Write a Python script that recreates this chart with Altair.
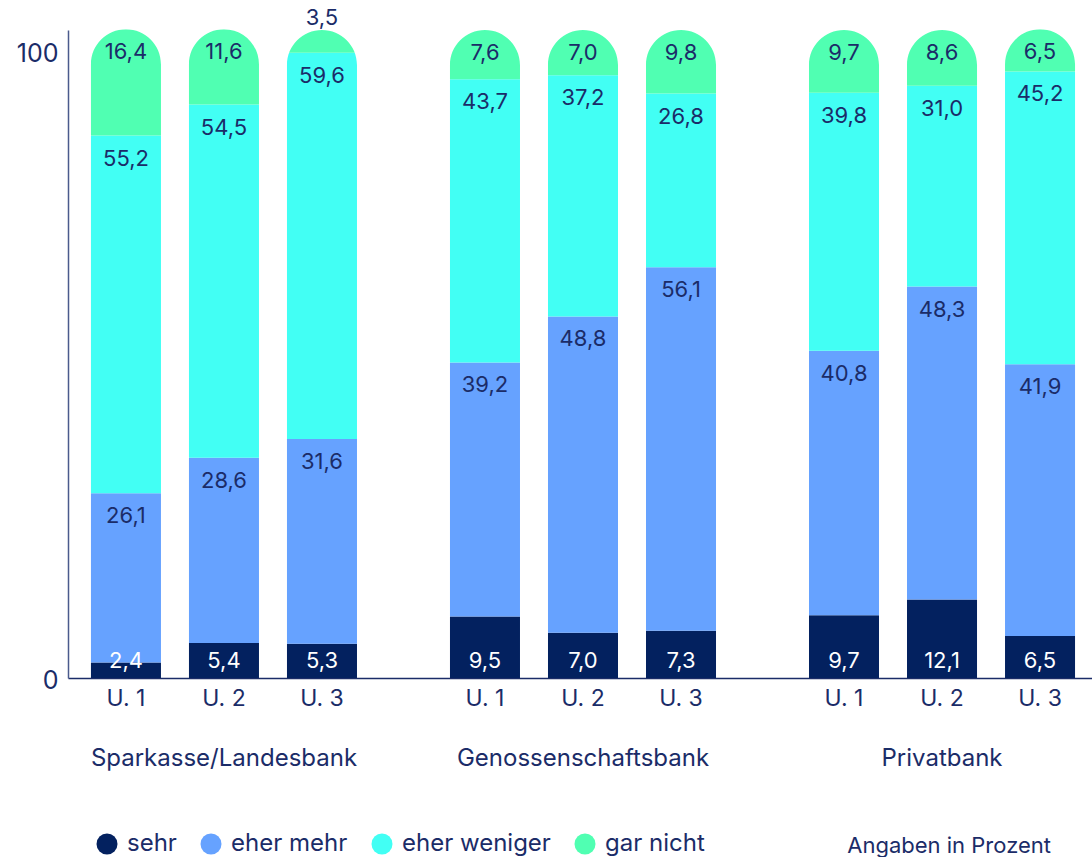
import altair as alt
import pandas as pd

groups = ["Sparkasse/Landesbank", "Genossenschaftsbank", "Privatbank"]
waves = ["U. 1", "U. 2", "U. 3"]
categories = ["sehr", "eher mehr", "eher weniger", "gar nicht"]
colors = ["#03215f", "#66a2ff", "#42fff4", "#50ffb2"]

sehr = [2.4, 5.4, 5.3, 9.5, 7.0, 7.3, 9.7, 12.1, 6.5]
eher_mehr = [26.1, 28.6, 31.6, 39.2, 48.8, 56.1, 40.8, 48.3, 41.9]
eher_weniger = [55.2, 54.5, 59.6, 43.7, 37.2, 26.8, 39.8, 31.0, 45.2]
gar_nicht = [16.4, 11.6, 3.5, 7.6, 7.0, 9.8, 9.7, 8.6, 6.5]

NAVY = "#1b2c68"
FONT = "Inter"

rows = []
bars_idx = [(g, w) for g in groups for w in waves]
series = [sehr, eher_mehr, eher_weniger, gar_nicht]
for i, (g, w) in enumerate(bars_idx):
    for k, cat in enumerate(categories):
        rows.append({"group": g, "wave": w, "category": cat, "k": k, "value": series[k][i]})
df = pd.DataFrame(rows)

base = alt.Chart(df).transform_calculate(
    label="replace(format(datum.value, '.1f'), '.', ',')",
    zero="0",
).transform_stack(
    stack="value", groupby=["group", "wave"], as_=["y0", "y1"],
    sort=[alt.SortField("k", order="ascending")],
)

x = alt.X(
    "group:N", sort=groups, title=None,
    scale=alt.Scale(paddingInner=0.259, paddingOuter=0.0556, align=0.575),
    axis=alt.Axis(labelPadding=68, ticks=False, domainColor=NAVY, domainWidth=1.5, grid=False,
                  labelFontSize=24, labelColor=NAVY, labelAngle=0, labelFont=FONT, labelLimit=500),
)
xo = alt.XOffset("wave:N", sort=waves, scale=alt.Scale(paddingInner=0.2857, paddingOuter=0))
yscale = alt.Scale(domain=[0, 100], nice=False, zero=True)
yaxis = alt.Axis(
    values=[0, 100], ticks=False, grid=False, domainColor="#4a5a8c", domainWidth=1.5,
    labelFontSize=25, labelColor=NAVY, labelPadding=10, labelFont=FONT,
    labelOffset={"condition": {"test": "datum.value === 100", "value": 23}, "value": 2},
    title=None,
)

bars = base.mark_bar().encode(
    x=x, xOffset=xo,
    y=alt.Y("y0:Q", scale=yscale, axis=yaxis),
    y2="y1:Q",
    color=alt.Color(
        "category:N", sort=categories,
        scale=alt.Scale(domain=categories, range=colors),
        legend=alt.Legend(
            orient="none", legendX=27, legendY=802, direction="horizontal", title=None,
            symbolType="circle", symbolSize=441, symbolStrokeWidth=0, symbolOpacity=1,
            labelFontSize=24, labelColor=NAVY, labelFont=FONT, columnPadding=22, labelOffset=8,
        ),
    ),
    order=alt.Order("k:Q"),
)

MASK = "M -1.08 0 L -1.08 -1.08 L 1.08 -1.08 L 1.08 0 L 1 0 A 1 1 0 0 0 -1 0 Z"
mask = base.transform_filter("datum.category === 'gar nicht'").mark_point(
    shape=MASK, size=4900, filled=True, color="white", opacity=1, strokeWidth=0, yOffset=35
).encode(x=x, xOffset=xo, y="y1:Q")

mid_labels = base.transform_filter(
    "datum.category !== 'sehr' && datum.value >= 5"
).mark_text(fontSize=22, color=NAVY, dy=23, baseline="middle", font=FONT).encode(
    x=x, xOffset=xo, y="y1:Q", text="label:N"
)

top_labels = base.transform_filter(
    "datum.category === 'gar nicht' && datum.value < 5"
).mark_text(fontSize=22, color=NAVY, dy=-12, baseline="middle", font=FONT).encode(
    x=x, xOffset=xo, y="y1:Q", text="label:N"
)

sehr_labels = base.transform_filter("datum.category === 'sehr'").mark_text(
    fontSize=22, color="white", dy=-17, baseline="middle", font=FONT
).encode(x=x, xOffset=xo, y="zero:Q", text="label:N")

wave_labels = base.transform_filter("datum.category === 'sehr'").mark_text(
    fontSize=23, color=NAVY, dy=21, baseline="middle", font=FONT
).encode(x=x, xOffset=xo, y="zero:Q", text="wave:N")

chart = alt.layer(bars, mask, mid_labels, top_labels, sehr_labels, wave_labels).properties(
    width=1024, height=648,
    autosize="none",
    padding={"left": 68, "top": 30, "right": 0, "bottom": 179},
    title=alt.TitleParams(
        text="Angaben in Prozent", orient="bottom", anchor="end", fontSize=22,
        fontWeight="normal", color=NAVY, font=FONT, offset=-20, dx=-41,
    ),
).configure(font=FONT).configure_view(stroke="transparent", strokeWidth=0).configure_axis(grid=False)

chart.save("out.html", embed_options={"renderer": "svg", "actions": False})
